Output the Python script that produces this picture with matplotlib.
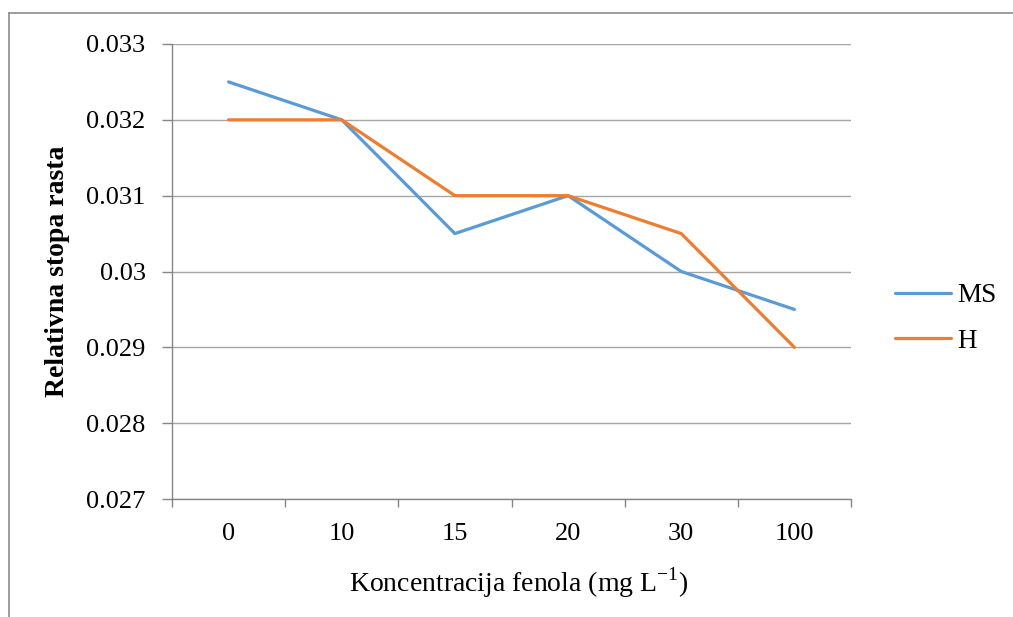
import matplotlib
matplotlib.use("Agg")
import matplotlib.pyplot as plt
from matplotlib.lines import Line2D

categories = ["0", "10", "15", "20", "30", "100"]
ms_values = [0.0325, 0.032, 0.0305, 0.031, 0.030, 0.0295]
h_values = [0.032, 0.032, 0.031, 0.031, 0.0305, 0.029]
y_ticks = [0.027, 0.028, 0.029, 0.03, 0.031, 0.032, 0.033]
y_tick_labels = ["0.027", "0.028", "0.029", "0.03", "0.031", "0.032", "0.033"]

plt.rcParams['font.family'] = ['Liberation Serif', 'DejaVu Serif']

W, H = 1013, 617
fig = plt.figure(figsize=(W / 100, H / 100), dpi=100)
fig.patch.set_facecolor("white")

# outer border (only top and left edges are visible in the reference crop)
fig.add_artist(Line2D([8.5 / W, 8.5 / W], [0, 1 - 13 / H], transform=fig.transFigure,
                      color="#8c8c8c", linewidth=1.2))
fig.add_artist(Line2D([8.5 / W, 1], [1 - 13 / H, 1 - 13 / H], transform=fig.transFigure,
                      color="#8c8c8c", linewidth=1.2))

left, right, top, bottom = 172, 851, 44, 499
ax = fig.add_axes([left / W, 1 - bottom / H, (right - left) / W, (bottom - top) / H])

x = list(range(len(categories)))
ax.plot(x, ms_values, color="#5B9BD5", linewidth=2.3, label="MS", solid_capstyle="round")
ax.plot(x, h_values, color="#ED7D31", linewidth=2.3, label="H", solid_capstyle="round")

ax.set_xlim(-0.5, len(categories) - 0.5)
ax.set_ylim(0.027, 0.033)
ax.set_yticks(y_ticks)
ax.set_yticklabels(y_tick_labels, fontsize=19)
ax.set_xticks(x)
ax.set_xticklabels(categories, fontsize=19)
ax.set_xticks([i - 0.5 for i in range(len(categories) + 1)], minor=True)
ax.tick_params(axis="x", which="major", length=0, pad=17)
ax.tick_params(axis="x", which="minor", length=6, color="#868686", width=1, direction="out")
ax.tick_params(axis="y", length=7, color="#868686", width=1, direction="out", pad=12)

ax.grid(axis="y", color="#a6a6a6", linewidth=1.0)
ax.set_axisbelow(True)
for s in ["top", "right"]:
    ax.spines[s].set_visible(False)
for s in ["left", "bottom"]:
    ax.spines[s].set_color("#868686")
    ax.spines[s].set_linewidth(1.0)

ax.set_xlabel("Koncentracija fenola (mg L$^{\\mathregular{-1}}$)", fontsize=20)
ax.xaxis.set_label_coords(0.51, -0.145)
ax.set_ylabel("Relativna stopa rasta", fontsize=20, fontweight="bold")
ax.yaxis.set_label_coords(-0.150, 0.5)

leg = ax.legend(loc="center left", bbox_to_anchor=(895 / W, 1 - 318.5 / H),
                bbox_transform=fig.transFigure, frameon=False, borderpad=0,
                borderaxespad=0, fontsize=19.5, handlelength=2.07,
                labelspacing=0.74, handletextpad=0.22)

fig.savefig("out.png", dpi=100)
